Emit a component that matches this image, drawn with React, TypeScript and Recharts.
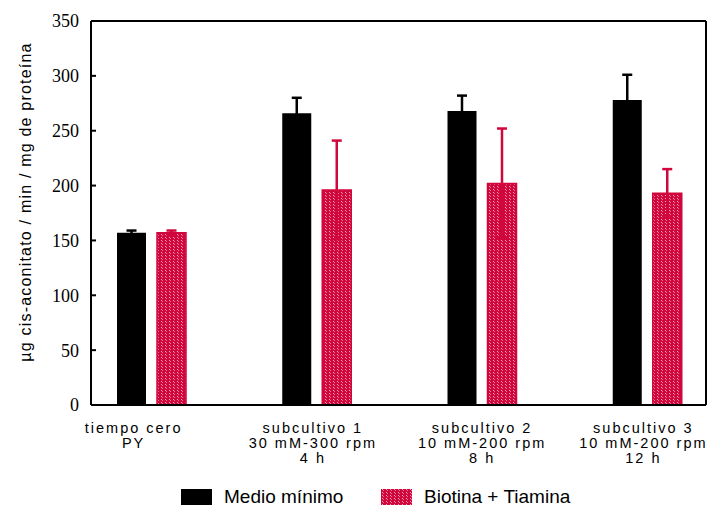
import { Bar, BarChart, ErrorBar, Label, Legend, ReferenceLine, XAxis, YAxis } from "recharts";

const categories = ["tiempo cero", "subcultivo 1", "subcultivo 2", "subcultivo 3"];
const categoryLines = [
  ["tiempo cero", "PY"],
  ["subcultivo 1", "30 mM-300  rpm", "4 h"],
  ["subcultivo 2", "10 mM-200  rpm", "8 h"],
  ["subcultivo 3", "10 mM-200  rpm", "12 h"],
];
const medioMinimo = [157, 266, 268, 278];
const medioMinimoErr = [2, 14, 14, 23];
const biotinaTiamina = [157, 196, 202, 193];
const biotinaTiaminaErr = [2, 45, 50, 22];
const yTicks = [0, 50, 100, 150, 200, 250, 300, 350];

const RED = "#d0063c";
const SANS = "'Liberation Sans', Arial, sans-serif";
const SERIF = "'Liberation Serif', 'Times New Roman', serif";

const data = categories.map((name, i) => ({
  name,
  medio: medioMinimo[i],
  medioErr: medioMinimoErr[i],
  biotina: biotinaTiamina[i],
  biotinaErr: biotinaTiaminaErr[i],
}));

// small horizontal nudges so the multi-line labels sit like the original layout
const labelShift = [-18, -4, 0, -4];

function CategoryTick(props: any) {
  const { x, y, payload, index } = props;
  const lines = categoryLines[index] ?? [payload.value];
  return (
    <g transform={`translate(${x + (labelShift[index] ?? 0)},${y})`}>
      {lines.map((line: string, i: number) => (
        <text
          key={i}
          x={0}
          y={28 + i * 15}
          textAnchor="middle"
          fontFamily={SANS}
          fontSize={14.5}
          letterSpacing={2}
          fill="#000"
        >
          {line}
        </text>
      ))}
    </g>
  );
}

function DotPattern({ id }: { id: string }) {
  return (
    <pattern id={id} width={4} height={3} patternUnits="userSpaceOnUse">
      <rect width={4} height={3} fill={RED} />
      <rect x={1} y={0} width={1} height={1} fill="#f3a3b6" />
      <rect x={2} y={1} width={1} height={1} fill="#e8788f" />
    </pattern>
  );
}

function LegendContent() {
  const items = [
    { label: "Medio mínimo", left: 181, fill: "#000" },
    { label: "Biotina + Tiamina", left: 381, fill: "url(#legendDots)" },
  ];
  return (
    <div style={{ position: "relative", height: 24, width: 711 }}>
      {items.map((it) => (
        <div
          key={it.label}
          style={{
            position: "absolute",
            left: it.left,
            top: 0,
            height: 24,
            display: "flex",
            alignItems: "center",
          }}
        >
          <svg width={31} height={16} style={{ display: "block" }}>
            <defs>
              <DotPattern id="legendDots" />
            </defs>
            <rect width={31} height={16} fill={it.fill} />
          </svg>
          <span
            style={{
              marginLeft: 12,
              fontFamily: SANS,
              fontSize: 19,
              color: "#000",
              whiteSpace: "nowrap",
            }}
          >
            {it.label}
          </span>
        </div>
      ))}
    </div>
  );
}

export default function App() {
  return (
    <div style={{ position: "absolute", left: 0, top: 0, width: 711, height: 512, background: "#fff" }}>
      <BarChart
        width={711}
        height={512}
        data={data}
        margin={{ top: 21, right: 0, bottom: 3, left: 31 }}
        barSize={29}
        barGap={11}
      >
        <defs>
          <DotPattern id="redDots" />
        </defs>
        <XAxis
          dataKey="name"
          height={80}
          padding={{ left: -22, right: -24 }}
          axisLine={{ stroke: "#000", strokeWidth: 2 }}
          tickLine={false}
          tickSize={0}
          tickMargin={0}
          interval={0}
          tick={<CategoryTick />}
        />
        <YAxis
          width={60}
          domain={[0, 350]}
          ticks={yTicks}
          interval={0}
          axisLine={{ stroke: "#000", strokeWidth: 2 }}
          tickLine={{ stroke: "#000", strokeWidth: 2 }}
          tickSize={-5}
          tickMargin={17}
          tick={{ fill: "#000", fontFamily: SERIF, fontSize: 18 }}
        >
          <Label
            content={() => (
              <text
                x={25}
                y={202}
                transform="rotate(-90 25 202)"
                textAnchor="middle"
                dominantBaseline="central"
                fontFamily={SANS}
                fontSize={16}
                letterSpacing={1.2}
                fill="#000"
              >
                µg cis-aconitato / min / mg  de proteína
              </text>
            )}
          />
        </YAxis>
        <YAxis
          yAxisId="right"
          orientation="right"
          width={5}
          domain={[0, 350]}
          ticks={yTicks}
          interval={0}
          axisLine={{ stroke: "#000", strokeWidth: 2 }}
          tickLine={{ stroke: "#000", strokeWidth: 2 }}
          tickSize={-5}
          tick={false}
        />
        <ReferenceLine y={350} stroke="#000" strokeWidth={2} />
        <Legend
          verticalAlign="bottom"
          content={<LegendContent />}
          wrapperStyle={{ left: 0, width: 711, height: 24 }}
        />
        <Bar dataKey="medio" name="Medio mínimo" fill="#000" isAnimationActive={false}>
          <ErrorBar dataKey="medioErr" width={5} stroke="#000" strokeWidth={2.5} />
        </Bar>
        <Bar
          dataKey="biotina"
          name="Biotina + Tiamina"
          fill="url(#redDots)"
          stroke={RED}
          strokeWidth={1.5}
          isAnimationActive={false}
        >
          <ErrorBar dataKey="biotinaErr" width={5} stroke={RED} strokeWidth={2.5} />
        </Bar>
      </BarChart>
    </div>
  );
}
